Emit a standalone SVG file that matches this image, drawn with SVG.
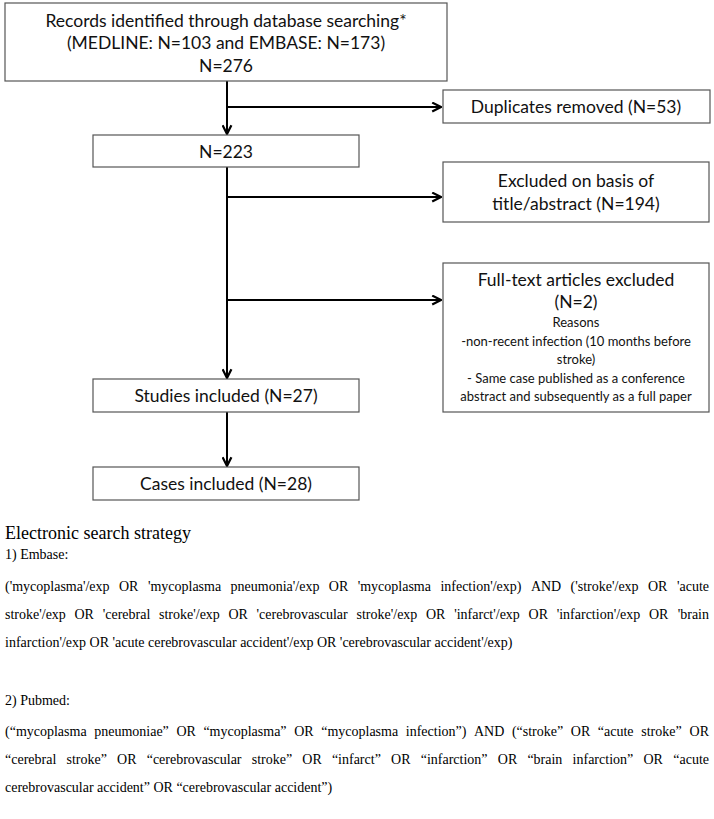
<svg xmlns="http://www.w3.org/2000/svg" width="714" height="819" viewBox="0 0 714 819">
<style>
.box{fill:#fff;stroke:#555;stroke-width:1.2}
.bt{font-family:Lato,"Open Sans",sans-serif;font-size:17.5px;fill:#111;text-anchor:middle}
.st{font-family:Lato,"Open Sans",sans-serif;font-size:13px;fill:#111;text-anchor:middle}
.conn{stroke:#000;stroke-width:2;fill:none}
.body{font-family:"Liberation Serif","Times New Roman",serif;font-size:14px;fill:#000}
.h{font-family:"Liberation Serif","Times New Roman",serif;font-size:18px;fill:#000}
</style>
<defs>
<marker id="ah" viewBox="0 0 10 10" refX="9" refY="5" markerWidth="5.5" markerHeight="5.5" orient="auto" markerUnits="strokeWidth">
<path d="M1,1 L9,5 L1,9" fill="none" stroke="#000" stroke-width="2"/>
</marker>
</defs>
<rect width="714" height="819" fill="#fff"/>
<g id="connectors">
<line class="conn" x1="227" y1="81" x2="227" y2="134" marker-end="url(#ah)"/>
<line class="conn" x1="227" y1="107" x2="441" y2="107" marker-end="url(#ah)"/>
<line class="conn" x1="227" y1="167" x2="227" y2="378" marker-end="url(#ah)"/>
<line class="conn" x1="227" y1="197" x2="441" y2="197" marker-end="url(#ah)"/>
<line class="conn" x1="227" y1="300" x2="441" y2="300" marker-end="url(#ah)"/>
<line class="conn" x1="227" y1="412" x2="227" y2="466" marker-end="url(#ah)"/>
</g>
<g id="records">
<rect class="box" x="5" y="3" width="442" height="78"/>
<text class="bt" x="226" y="27">Records identified through database searching*</text>
<text class="bt" x="226" y="49">(MEDLINE: N=103 and EMBASE: N=173)</text>
<text class="bt" x="226" y="72">N=276</text>
</g>
<g id="duplicates">
<rect class="box" x="443" y="90" width="267" height="33"/>
<text class="bt" x="576" y="113">Duplicates removed (N=53)</text>
</g>
<g id="n223">
<rect class="box" x="93" y="135" width="266" height="32"/>
<text class="bt" x="226" y="158">N=223</text>
</g>
<g id="excluded">
<rect class="box" x="443" y="162" width="266" height="60"/>
<text class="bt" x="576" y="187">Excluded on basis of</text>
<text class="bt" x="576" y="210">title/abstract (N=194)</text>
</g>
<g id="fulltext">
<rect class="box" x="443" y="263" width="266" height="149"/>
<text class="bt" x="576" y="286">Full-text articles excluded</text>
<text class="bt" x="576" y="308">(N=2)</text>
<text class="st" x="576" y="327">Reasons</text>
<text class="st" x="576" y="346">-non-recent infection (10 months before</text>
<text class="st" x="576" y="364">stroke)</text>
<text class="st" x="576" y="383">- Same case published as a conference</text>
<text class="st" x="576" y="401">abstract and subsequently as a full paper</text>
</g>
<g id="studies">
<rect class="box" x="93" y="379" width="266" height="33"/>
<text class="bt" x="226" y="402">Studies included (N=27)</text>
</g>
<g id="cases">
<rect class="box" x="93" y="467" width="266" height="33"/>
<text class="bt" x="226" y="490">Cases included (N=28)</text>
</g>
<g id="search-strategy">
<text class="h" x="5" y="539">Electronic search strategy</text>
<text class="body" x="5" y="559">1) Embase:</text>
<text class="body" y="591"><tspan x="5">('mycoplasma'/exp</tspan><tspan x="119">OR</tspan><tspan x="147.9">'mycoplasma</tspan><tspan x="230.6">pneumonia'/exp</tspan><tspan x="328.8">OR</tspan><tspan x="357.7">'mycoplasma</tspan><tspan x="440.4">infection'/exp)</tspan><tspan x="530.9">AND</tspan><tspan x="570.6">('stroke'/exp</tspan><tspan x="648">OR</tspan><tspan x="709" text-anchor="end">'acute</tspan></text>
<text class="body" y="619"><tspan x="5">stroke'/exp</tspan><tspan x="74.5">OR</tspan><tspan x="102.7">'cerebral</tspan><tspan x="159">stroke'/exp</tspan><tspan x="228.5">OR</tspan><tspan x="256.6">'cerebrovascular</tspan><tspan x="356.5">stroke'/exp</tspan><tspan x="426">OR</tspan><tspan x="454.2">'infarct'/exp</tspan><tspan x="528.6">OR</tspan><tspan x="556.7">'infarction'/exp</tspan><tspan x="649">OR</tspan><tspan x="709" text-anchor="end">'brain</tspan></text>
<text class="body" x="5" y="647">infarction'/exp OR 'acute cerebrovascular accident'/exp OR 'cerebrovascular accident'/exp)</text>
<text class="body" x="5" y="705">2) Pubmed:</text>
<text class="body" y="736"><tspan x="5">(“mycoplasma</tspan><tspan x="94.2">pneumoniae”</tspan><tspan x="176.4">OR</tspan><tspan x="203.4">“mycoplasma”</tspan><tspan x="294.2">OR</tspan><tspan x="321.2">“mycoplasma</tspan><tspan x="405.8">infection”)</tspan><tspan x="474">AND</tspan><tspan x="511.9">(“stroke”</tspan><tspan x="570.8">OR</tspan><tspan x="597.8">“acute</tspan><tspan x="641.2">stroke”</tspan><tspan x="709" text-anchor="end">OR</tspan></text>
<text class="body" y="764"><tspan x="5">“cerebral</tspan><tspan x="66.5">stroke”</tspan><tspan x="117.1">OR</tspan><tspan x="146.7">“cerebrovascular</tspan><tspan x="251.7">stroke”</tspan><tspan x="302.3">OR</tspan><tspan x="331.9">“infarct”</tspan><tspan x="391.1">OR</tspan><tspan x="420.7">“infarction”</tspan><tspan x="497.8">OR</tspan><tspan x="527.4">“brain</tspan><tspan x="572.6">infarction”</tspan><tspan x="643.4">OR</tspan><tspan x="709" text-anchor="end">“acute</tspan></text>
<text class="body" x="5" y="792">cerebrovascular accident” OR “cerebrovascular accident”)</text>
</g>
</svg>
